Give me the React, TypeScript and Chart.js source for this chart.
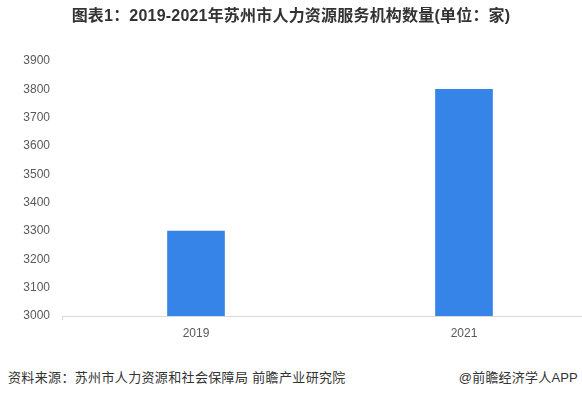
import React, { useEffect, useRef } from "react";
import { Chart, registerables } from "chart.js";

Chart.register(...registerables);

const categories = ["2019", "2021"];
const values = [3300, 3800];
const yMin = 3000;
const yMax = 3900;
const yStep = 100;

const titleText = "图表1：2019-2021年苏州市人力资源服务机构数量(单位：家)";
const sourceText = "资料来源：苏州市人力资源和社会保障局 前瞻产业研究院";
const brandText = "@前瞻经济学人APP";

const FONT = "'Liberation Sans', 'Noto Sans CJK SC', sans-serif";

export default function App() {
  const ref = useRef<HTMLCanvasElement | null>(null);

  useEffect(() => {
    const canvas = ref.current;
    if (!canvas) return;
    const chart = new Chart(canvas, {
      type: "bar",
      data: {
        labels: categories,
        datasets: [
          {
            data: values,
            backgroundColor: "#3784E8",
            barThickness: 57,
          },
        ],
      },
      options: {
        animation: false,
        responsive: false,
        maintainAspectRatio: false,
        layout: { padding: { top: 61, left: 0, right: 2, bottom: 14 } },
        plugins: {
          legend: { display: false },
          title: { display: false },
          tooltip: { enabled: false },
        },
        scales: {
          x: {
            grid: {
              display: true,
              drawOnChartArea: false,
              drawTicks: true,
              tickLength: 4,
              color: (ctx: any) => (ctx.index === 0 ? "#d9d9d9" : "rgba(0,0,0,0)"),
            },
            border: { display: true, color: "#d9d9d9", width: 1 },
            ticks: {
              color: "#595959",
              font: { family: FONT, size: 12 },
              padding: 6,
            },
            afterFit: (scale: any) => {
              scale.height = 30;
            },
          },
          y: {
            min: yMin,
            max: yMax,
            grid: { display: false, drawTicks: false },
            border: { display: false },
            ticks: {
              stepSize: yStep,
              color: "#595959",
              font: { family: FONT, size: 12 },
              padding: 12,
              callback: (v: any) => String(v),
            },
            afterFit: (scale: any) => {
              scale.width = 62;
            },
          },
        },
      },
    });
    return () => chart.destroy();
  }, []);

  return (
    <div
      style={{
        position: "fixed",
        left: 0,
        top: 0,
        width: 582,
        height: 399,
        overflow: "hidden",
        background: "#ffffff",
        fontFamily: FONT,
      }}
    >
      <canvas
        ref={ref}
        width={600}
        height={360}
        style={{ position: "absolute", left: 0, top: 0, width: 600, height: 360 }}
      />
      <div
        style={{
          position: "absolute",
          left: 0,
          width: 582,
          top: 6,
          textAlign: "center",
          fontSize: 16,
          fontWeight: "bold",
          color: "#333333",
          lineHeight: "20px",
          letterSpacing: "0.2px",
          whiteSpace: "nowrap",
        }}
      >
        {titleText}
      </div>
      <div
        style={{
          position: "absolute",
          left: 8,
          top: 369,
          fontSize: 13,
          color: "#333333",
          lineHeight: "18px",
          letterSpacing: "0.35px",
          whiteSpace: "nowrap",
        }}
      >
        {sourceText}
      </div>
      <div
        style={{
          position: "absolute",
          right: 4,
          top: 369,
          fontSize: 13,
          color: "#333333",
          lineHeight: "18px",
          letterSpacing: "0.2px",
          whiteSpace: "nowrap",
        }}
      >
        {brandText}
      </div>
    </div>
  );
}
